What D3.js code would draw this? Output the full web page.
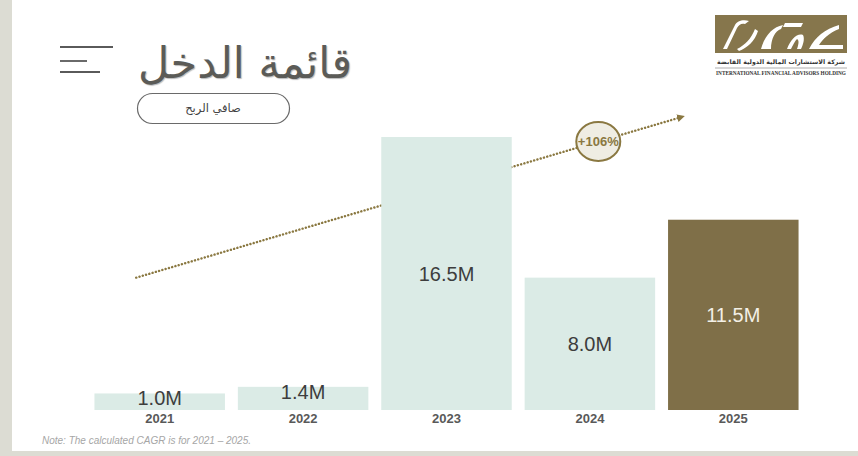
<!DOCTYPE html>
<html>
<head>
<meta charset="utf-8">
<script src="https://cdn.jsdelivr.net/npm/d3@7"></script>
<style>
  body { margin: 0; background: #fff; }
  svg { display: block; font-family: "Liberation Sans", Arial, sans-serif; }
</style>
</head>
<body>
<div id="chart"></div>
<script>
// data
const years = ["2021", "2022", "2023", "2024", "2025"];
const netProfit = [1.0, 1.4, 16.5, 8.0, 11.5];
const valueLabels = ["1.0M", "1.4M", "16.5M", "8.0M", "11.5M"];
const cagrLabel = "+106%";
// trend arrow, in data terms: [year, fraction of band, value]
const trendFrom = ["2021", 0.32, 8.0];
const trendTo = ["2025", 0.1, 17.7];

const width = 858, height = 456;

const svg = d3.select("#chart")
  .append("svg")
    .attr("width", width)
    .attr("height", height);

// slide frame
svg.append("rect").attr("width", width).attr("height", height).attr("fill", "#dcdcd3");
svg.append("rect").attr("x", 12).attr("y", 0).attr("width", width - 12).attr("height", 451).attr("fill", "#fff");

const x = d3.scaleBand()
  .domain(years)
  .range([88, 805])
  .paddingInner(0.09)
  .paddingOuter(0.045);

const y = d3.scaleLinear()
  .domain([0, 16.5])
  .range([410, 137]);

const data = years.map((d, i) => ({year: d, value: netProfit[i], label: valueLabels[i]}));
const last = years[years.length - 1];

// trend arrow (drawn under the bars)
const defs = svg.append("defs");
defs.append("marker")
    .attr("id", "arrow")
    .attr("viewBox", "0 0 10 10")
    .attr("refX", 5).attr("refY", 5)
    .attr("markerWidth", 3.2).attr("markerHeight", 3.2)
    .attr("orient", "auto")
  .append("path")
    .attr("d", "M0,0L10,5L0,10z")
    .attr("fill", "#8a7841");

const tx = t => x(t[0]) + x.bandwidth() * t[1];
svg.append("line")
    .attr("x1", tx(trendFrom)).attr("y1", y(trendFrom[2]))
    .attr("x2", tx(trendTo)).attr("y2", y(trendTo[2]))
    .attr("stroke", "#8a7841")
    .attr("stroke-width", 2.4)
    .attr("stroke-dasharray", "0.1 3.3")
    .attr("stroke-linecap", "round")
    .attr("marker-end", "url(#arrow)");

// bars
svg.selectAll(".bar")
  .data(data)
  .join("rect")
    .attr("class", "bar")
    .attr("x", d => x(d.year))
    .attr("y", d => y(d.value))
    .attr("width", x.bandwidth())
    .attr("height", d => y(0) - y(d.value))
    .attr("fill", d => d.year === last ? "#7f6f48" : "#dbebe6");

// value labels
svg.selectAll(".val")
  .data(data)
  .join("text")
    .attr("class", "val")
    .attr("x", d => x(d.year) + x.bandwidth() / 2)
    .attr("y", d => d.value < 3 ? y(d.value) + 5 : (y(d.value) + y(0)) / 2)
    .attr("dy", "0.35em")
    .attr("text-anchor", "middle")
    .style("font-size", "20px")
    .attr("fill", d => d.year === last ? "#f3f0e6" : "#3d3d3d")
    .text(d => d.label);

// year axis
const xAxis = svg.append("g")
    .attr("transform", `translate(0,${y(0)})`)
    .call(d3.axisBottom(x).tickSize(0).tickPadding(4));
xAxis.select(".domain").remove();
xAxis.selectAll("text")
    .attr("fill", "#595959")
    .style("font-size", "13px")
    .style("font-weight", "bold")
    .style("font-family", "Liberation Sans, Arial, sans-serif");

// CAGR badge
const mx = d3.interpolate(tx(trendFrom), tx(trendTo))(0.848);
const my = d3.interpolate(y(trendFrom[2]), y(trendTo[2]))(0.848);
svg.append("ellipse")
    .attr("cx", mx).attr("cy", my)
    .attr("rx", 22).attr("ry", 19.5)
    .attr("fill", "#efede3")
    .attr("stroke", "#8a7841")
    .attr("stroke-width", 2);
svg.append("text")
    .attr("x", mx).attr("y", my)
    .attr("dy", "0.36em")
    .attr("text-anchor", "middle")
    .attr("fill", "#8a7841")
    .style("font-size", "13px")
    .style("font-weight", "bold")
    .text(cagrLabel);

// title + menu icon
svg.append("text")
    .attr("x", 352).attr("y", 78)
    .attr("text-anchor", "end")
    .attr("fill", "#5b5b57")
    .style("font-family", "DejaVu Sans, sans-serif")
    .style("font-size", "43px")
    .style("text-shadow", "1px 1px 1px #bbb")
    .text("قائمة الدخل");

[[113, 47], [87, 61], [100, 72]].forEach(([x2, yy]) => {
  svg.append("line")
      .attr("x1", 60).attr("x2", x2)
      .attr("y1", yy).attr("y2", yy)
      .attr("stroke", "#5a5a5a")
      .attr("stroke-width", 1.8);
});

// subtitle pill
svg.append("rect")
    .attr("x", 137.5).attr("y", 93.5)
    .attr("width", 152).attr("height", 30)
    .attr("rx", 15)
    .attr("fill", "#fff")
    .attr("stroke", "#6a6a6a")
    .attr("stroke-width", 1.2);
svg.append("text")
    .attr("x", 213).attr("y", 108)
    .attr("dy", "0.35em")
    .attr("text-anchor", "middle")
    .attr("fill", "#444")
    .style("font-family", "DejaVu Sans, sans-serif")
    .style("font-size", "11.5px")
    .text("صافي الربح");

// logo
const logo = svg.append("g").attr("transform", "translate(715,15)");
logo.append("rect").attr("width", 132).attr("height", 38).attr("fill", "#86764c");
const lw = logo.append("g").attr("fill", "#fff");
lw.append("path").attr("d", "M8,34 L20,10 C22,6 28,4 34,6 L30,9 C26,8 24,10 22,13 L12,34 Z");
lw.append("path").attr("d", "M22,34 C30,30 36,24 40,14 L43,16 C40,26 32,33 24,36 Z");
lw.append("path").attr("d", "M46,34 C50,20 58,12 68,10 L66,14 C60,16 56,24 56,34 Z");
lw.append("path").attr("d", "M70,8 L88,8 L86,12 L68,12 Z");
lw.append("path").attr("d", "M72,34 C76,24 82,18 88,20 C90,24 88,30 86,34 L82,34 C84,28 84,25 82,24 C80,26 78,30 76,34 Z");
lw.append("path").attr("d", "M94,34 C100,22 110,14 124,10 L124,14 C114,18 108,24 104,30 L128,30 L128,34 Z");

// shrink a text until it fits the logo width
function fitText(sel, maxW, size) {
  sel.style("font-size", size + "px");
  const w = sel.node().getComputedTextLength();
  if (w > maxW) sel.style("font-size", (size * maxW / w).toFixed(2) + "px");
}

const arName = logo.append("text")
    .attr("x", 66).attr("y", 49)
    .attr("text-anchor", "middle")
    .attr("fill", "#333")
    .style("font-family", "DejaVu Sans, sans-serif")
    .style("font-weight", "bold")
    .text("شركة الاستشارات المالية الدولية القابضة");
fitText(arName, 128, 8.5);
logo.append("line").attr("x1", 0).attr("x2", 132).attr("y1", 53).attr("y2", 53).attr("stroke", "#777").attr("stroke-width", 0.6);
const enName = logo.append("text")
    .attr("x", 66).attr("y", 60)
    .attr("text-anchor", "middle")
    .attr("fill", "#333")
    .style("font-family", "Liberation Serif, serif")
    .style("font-weight", "bold")
    .text("INTERNATIONAL FINANCIAL ADVISORS HOLDING");
fitText(enName, 130, 5.6);

// footnote
svg.append("text")
    .attr("x", 42).attr("y", 444)
    .attr("fill", "#a6a6a6")
    .style("font-size", "10px")
    .style("font-style", "italic")
    .text("Note: The calculated CAGR is for 2021 – 2025.");
</script>
</body>
</html>
